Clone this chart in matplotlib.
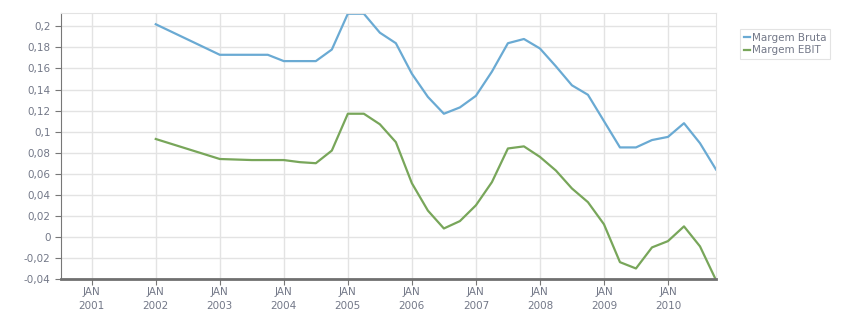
import matplotlib
matplotlib.use("Agg")
import matplotlib.pyplot as plt

# dates as "YYYY-MM"
bruta_dates = ["2002-01", "2003-01", "2003-10", "2004-01", "2004-07", "2004-10",
               "2005-01", "2005-04", "2005-07", "2005-10", "2006-01", "2006-04",
               "2006-07", "2006-10", "2007-01", "2007-04", "2007-07", "2007-10",
               "2008-01", "2008-04", "2008-07", "2008-10", "2009-01", "2009-04",
               "2009-07", "2009-10", "2010-01", "2010-04", "2010-07", "2010-10"]
bruta = [0.202, 0.173, 0.173, 0.167, 0.167, 0.178,
         0.212, 0.212, 0.194, 0.184, 0.155, 0.133,
         0.117, 0.123, 0.134, 0.157, 0.184, 0.188,
         0.179, 0.162, 0.144, 0.135, 0.110, 0.085,
         0.085, 0.092, 0.095, 0.108, 0.089, 0.064]

ebit_dates = ["2002-01", "2003-01", "2003-07", "2004-01", "2004-04", "2004-07",
              "2004-10", "2005-01", "2005-04", "2005-07", "2005-10", "2006-01",
              "2006-04", "2006-07", "2006-10", "2007-01", "2007-04", "2007-07",
              "2007-10", "2008-01", "2008-04", "2008-07", "2008-10", "2009-01",
              "2009-04", "2009-07", "2009-10", "2010-01", "2010-04", "2010-07",
              "2010-10"]
ebit = [0.093, 0.074, 0.073, 0.073, 0.071, 0.070,
        0.082, 0.117, 0.117, 0.107, 0.090, 0.051,
        0.025, 0.008, 0.015, 0.030, 0.052, 0.084,
        0.086, 0.076, 0.063, 0.046, 0.033, 0.012,
        -0.024, -0.030, -0.010, -0.004, 0.010, -0.009,
        -0.041]

years = list(range(2001, 2011))
yticks = [-0.04, -0.02, 0, 0.02, 0.04, 0.06, 0.08, 0.1, 0.12, 0.14, 0.16, 0.18, 0.2]


def to_num(d):
    y, m = d.split("-")
    return int(y) + (int(m) - 1) / 12


def fmt(v):
    s = ("%.2f" % v).rstrip("0").rstrip(".")
    if s == "-0":
        s = "0"
    return s.replace(".", ",")


fig = plt.figure(figsize=(8.51, 3.13), dpi=100)
ax = fig.add_axes([61 / 851, 1 - 279 / 313, 655 / 851, 266 / 313])

ax.plot([to_num(d) for d in bruta_dates], bruta, color="#6aaad3", lw=1.6,
        label="Margem Bruta")
ax.plot([to_num(d) for d in ebit_dates], ebit, color="#78a65a", lw=1.6,
        label="Margem EBIT")

ax.set_xlim(2000.52, 2010.75)
ax.set_ylim(-0.04, 0.2127)

ax.set_xticks(years)
ax.set_xticklabels(["JAN\n%d" % y for y in years], linespacing=1.45)
ax.set_yticks(yticks)
ax.set_yticklabels([fmt(v) for v in yticks])

ax.grid(True, color="#e3e3e3", lw=1)
ax.set_axisbelow(True)
ax.tick_params(axis="both", colors="#777777", labelcolor="#737888", labelsize=7.5,
               length=4, width=0.8)
ax.tick_params(axis="x", pad=2)

for s in ["top", "right"]:
    ax.spines[s].set_color("#e3e3e3")
ax.spines["left"].set_color("#777777")
ax.spines["left"].set_linewidth(0.8)
ax.spines["bottom"].set_color("#707070")
ax.spines["bottom"].set_linewidth(2)

leg = fig.legend(loc="upper left", bbox_to_anchor=(740 / 851, 1 - 29 / 313),
                 fontsize=7.5, frameon=True, fancybox=False, handlelength=0.6,
                 handletextpad=0.2, borderpad=0.35, labelspacing=0.25,
                 borderaxespad=0)
leg.get_frame().set_edgecolor("#dddddd")
leg.get_frame().set_linewidth(0.8)
for t in leg.get_texts():
    t.set_color("#737888")

fig.savefig("out.png", dpi=100)
